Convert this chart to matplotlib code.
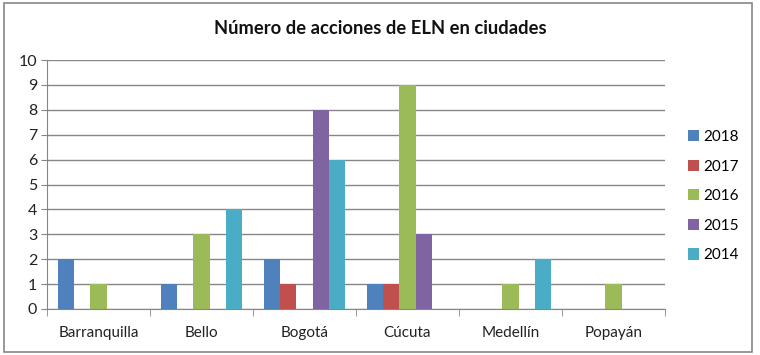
import numpy as np
import matplotlib
matplotlib.use("Agg")
import matplotlib.pyplot as plt
from matplotlib.patches import Rectangle

# datos del grafico
ciudades = ["Barranquilla", "Bello", "Bogotá", "Cúcuta", "Medellín", "Popayán"]
anios = ["2018", "2017", "2016", "2015", "2014"]
v2018 = [2, 1, 2, 1, 0, 0]
v2017 = [0, 0, 1, 1, 0, 0]
v2016 = [1, 3, 0, 9, 1, 1]
v2015 = [0, 0, 8, 3, 0, 0]
v2014 = [0, 4, 6, 0, 2, 0]
series = [v2018, v2017, v2016, v2015, v2014]
colores = ["#4F81BD", "#C0504D", "#9BBB59", "#8064A2", "#4BACC6"]

plt.rcParams['font.family'] = ['Lato', 'DejaVu Sans']

fig = plt.figure(figsize=(7.6, 3.55), dpi=100)
ax = fig.add_axes([47/760, 46/355, 618/760, 249/355])

x = np.arange(len(ciudades))
w = 0.156
for i, (vals, c) in enumerate(zip(series, colores)):
    ax.bar(x + (i - 2) * w, vals, w, color=c, label=anios[i], zorder=3)

ax.set_xlim(-0.5, len(ciudades) - 0.5)
ax.set_ylim(0, 10)
ax.set_yticks(range(0, 11))
ax.yaxis.grid(True, color="#868686", linewidth=1, zorder=0)
for s in ["top", "right"]:
    ax.spines[s].set_visible(False)
ax.spines["left"].set_color("#868686")
ax.spines["bottom"].set_color("#868686")
ax.tick_params(axis="y", length=4, color="#868686", labelsize=11.5, pad=3, labelcolor="#222222")
ax.set_xticks(x)
ax.set_xticklabels(ciudades)
ax.tick_params(axis="x", length=0, labelsize=11, pad=12, labelcolor="#222222")
ax.set_xticks(np.arange(-0.5, len(ciudades)), minor=True)
ax.tick_params(axis="x", which="minor", length=5, color="#868686")

fig.text(380/760, 1 - 28/355, "Número de acciones de ELN en ciudades",
         ha="center", va="center", fontsize=13.2, fontweight="bold", color="#111111")

ax.legend(loc="upper left", bbox_to_anchor=(688/760, 1 - 130/355),
          bbox_transform=fig.transFigure, frameon=False, fontsize=11,
          handlelength=0.75, handleheight=0.75, handletextpad=0.25,
          labelspacing=1.02, borderaxespad=0, borderpad=0)

# borde exterior del grafico
fig.patches.append(Rectangle((4/760, 3/355), 748/760, 349/355, transform=fig.transFigure,
                             fill=False, edgecolor="#868686", linewidth=1.2))

fig.savefig("out.png", dpi=100)
